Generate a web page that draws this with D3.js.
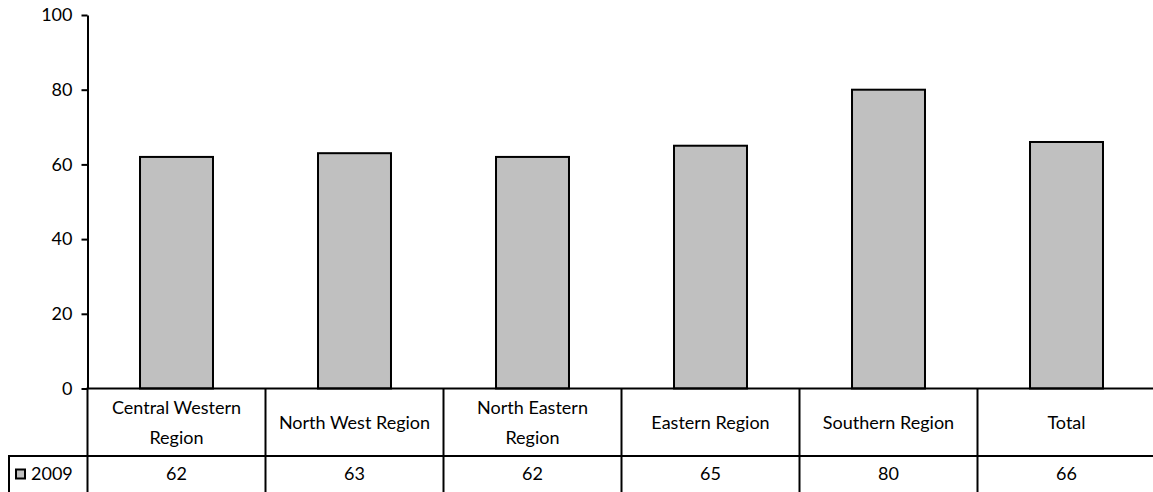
<!DOCTYPE html>
<html><head><meta charset="utf-8">
<script src="https://cdn.jsdelivr.net/npm/d3@7"></script>
<style>
html,body{margin:0;padding:0;background:#fff;}
svg{display:block;font-family:Lato,"Open Sans",sans-serif;}
</style></head>
<body>
<svg id="chart" width="1153" height="492"></svg>
<script>
const categories = ["Central Western Region","North West Region","North Eastern Region","Eastern Region","Southern Region","Total"];
const seriesName = "2009";
const values2009 = [62,63,62,65,80,66];
const yTicks = [0,20,40,60,80,100];

const svg = d3.select("#chart");
const W = 1153, H = 492;
const left = 87.5, axisY = 388.5, topY = 15;
const rowY = 456;
const fs = 18;

const x = d3.scaleBand().domain(categories).range([left, left + 178*6]).padding(0);
const y = d3.scaleLinear().domain([0,100]).range([axisY, topY]);

// bars
const bw = x.bandwidth()*0.41;
svg.append("g").selectAll("rect").data(values2009).join("rect")
  .attr("x",(d,i)=>x(categories[i]) + (x.bandwidth()-bw)/2)
  .attr("y",d=>y(d))
  .attr("width",bw)
  .attr("height",d=>y(0)-y(d))
  .attr("fill","#c0c0c0").attr("stroke","#000").attr("stroke-width",2);

// y axis
const yAxis = d3.axisLeft(y).tickValues(yTicks).tickSize(6).tickSizeOuter(0).tickPadding(9);
const gy = svg.append("g").attr("transform",`translate(${left},0)`).call(yAxis);
gy.select(".domain").attr("stroke","#000").attr("stroke-width",2);
gy.selectAll(".tick line").attr("stroke","#000").attr("stroke-width",2);
gy.selectAll(".tick text").attr("font-size",fs).attr("font-family","Lato,'Open Sans',sans-serif").attr("fill","#000");

// table lines
const g = svg.append("g").attr("stroke","#000").attr("stroke-width",2);
g.append("line").attr("x1",left-1).attr("x2",W).attr("y1",axisY).attr("y2",axisY);
g.append("line").attr("x1",8).attr("x2",W).attr("y1",rowY).attr("y2",rowY);
g.append("line").attr("x1",9).attr("x2",9).attr("y1",rowY).attr("y2",H);
categories.forEach((c,i)=>{
  const xx = x(c);
  g.append("line").attr("x1",xx).attr("x2",xx).attr("y1",axisY).attr("y2",H);
});

// category labels (wrapped)
const lab = svg.append("g").attr("font-size",fs).attr("text-anchor","middle").attr("fill","#000");
const maxW = 166;
categories.forEach(c=>{
  const t = lab.append("text").attr("x",x(c)+x.bandwidth()/2);
  const words = c.split(" ");
  let lines = [], cur = "";
  const probe = lab.append("text").attr("visibility","hidden");
  words.forEach(w=>{
    const test = cur ? cur+" "+w : w;
    probe.text(test);
    if (probe.node().getComputedTextLength() > maxW && cur) { lines.push(cur); cur = w; }
    else cur = test;
  });
  lines.push(cur);
  probe.remove();
  const mid = (axisY+rowY)/2;
  const lh = 30;
  lines.forEach((l,k)=>{
    t.append("tspan").attr("x",x(c)+x.bandwidth()/2)
      .attr("y", mid + (k-(lines.length-1)/2)*lh).attr("dy","0.35em").text(l);
  });
});

// value row
const vr = svg.append("g").attr("font-size",fs).attr("text-anchor","middle").attr("fill","#000");
values2009.forEach((v,i)=>{
  vr.append("text").attr("x",x(categories[i])+x.bandwidth()/2).attr("y",(rowY+H)/2).attr("dy","0.35em").text(v);
});
// legend key
svg.append("rect").attr("x",16).attr("y",469.5).attr("width",9).attr("height",9)
  .attr("fill","#c0c0c0").attr("stroke","#000").attr("stroke-width",2);
svg.append("text").attr("x",31).attr("y",(rowY+H)/2).attr("dy","0.35em").attr("font-size",fs).text(seriesName);
</script>
</body></html>
